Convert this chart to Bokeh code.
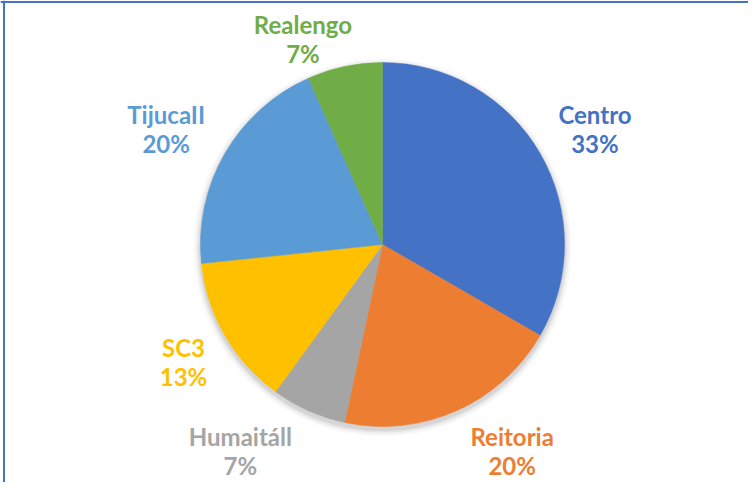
import math
from bokeh.plotting import figure
from bokeh.models import ColumnDataSource, Span
from bokeh.core.properties import value
from bokeh.embed import file_html
from bokeh.resources import INLINE

# ---- data ----
campus = ["Centro", "Reitoria", "Humaitáll", "SC3", "TijucaII", "Realengo"]
counts = [5, 3, 1, 2, 3, 1]
colors = ["#4472C4", "#ED7D31", "#A5A5A5", "#FFC000", "#5B9BD5", "#70AD47"]

# ---- label layout (style) ----
label_nudge_deg = [1.4, -8.1, 10.5, -0.5, -2.0, -9.2]
label_radius = [242, 244, 251, 231, 245, 220]

R = 182
total = sum(counts)
starts, ends, lx, ly, texts = [], [], [], [], []
cum = 0
for i, c in enumerate(counts):
    a0 = math.pi / 2 - cum / total * 2 * math.pi
    cum += c
    a1 = math.pi / 2 - cum / total * 2 * math.pi
    starts.append(a0)
    ends.append(a1)
    mid_clock = (cum - c / 2) / total * 360 + label_nudge_deg[i]
    th = math.radians(mid_clock)
    lx.append(label_radius[i] * math.sin(th))
    ly.append(label_radius[i] * math.cos(th))
    texts.append(f"{campus[i]}\n{round(c / total * 100)}%")

src = ColumnDataSource(dict(start=starts, end=ends, color=colors, name=campus,
                            lx=lx, ly=ly, text=texts))

W, H = 748, 482
p = figure(width=W, height=H, x_range=(-382, 366), y_range=(-238, 244),
           output_backend="svg", toolbar_location=None,
           min_border=0, min_border_left=0, min_border_right=0,
           min_border_top=0, min_border_bottom=0)
p.axis.visible = False
p.grid.visible = False
p.outline_line_color = None
p.background_fill_color = "white"
p.border_fill_color = "white"

# soft shadow
for k, a in [(7, 0.025), (5, 0.035), (3, 0.05), (1.5, 0.06)]:
    p.circle(x=[0], y=[-3], radius=R + k, fill_color="black", fill_alpha=a,
             line_color=None)

p.wedge(x=0, y=0, radius=R, start_angle="start", end_angle="end",
        direction="clock", fill_color="color", line_color="color",
        line_width=0.5, source=src)

p.text(x="lx", y="ly", text="text", source=src, text_color="color",
       text_align="center", text_baseline="middle",
       text_font=value("Lato"), text_font_style="bold",
       text_font_size="24px", text_line_height=1.0)

# chart border (left and top visible)
p.add_layout(Span(location=-378.5, dimension="height", line_color="#4472C4",
                  line_width=2))
p.add_layout(Span(location=242.5, dimension="width", line_color="#4472C4",
                  line_width=2))

open("out.html", "w").write(file_html(p, INLINE))
